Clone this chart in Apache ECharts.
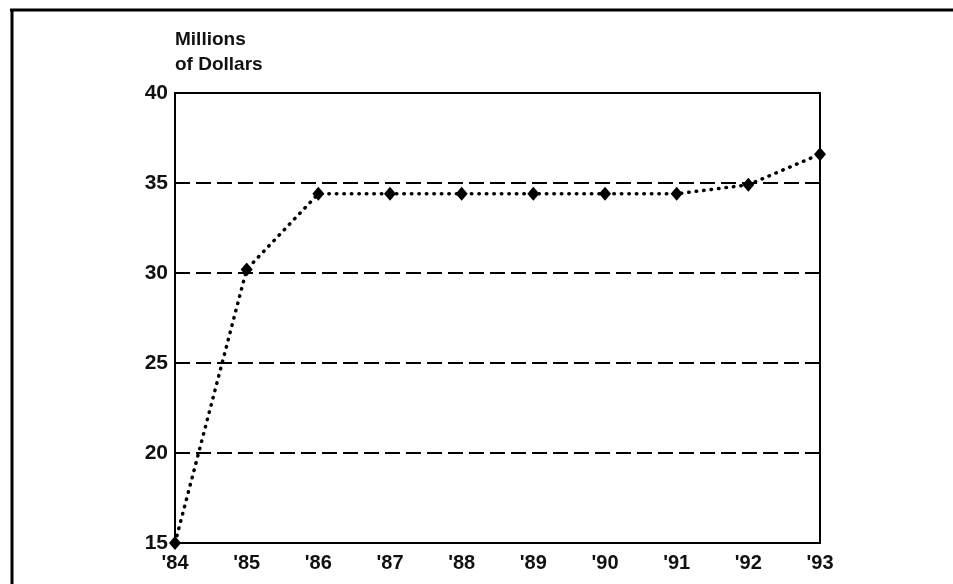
<!DOCTYPE html>
<html>
<head>
<meta charset="utf-8">
<script src="https://cdn.jsdelivr.net/npm/echarts@6/dist/echarts.min.js"></script>
<style>
	html, body { margin: 0; padding: 0; background: #fff; }
	#chart { width: 953px; height: 584px; }
</style>
</head>
<body>
<div id="chart"></div>
<script>
var years = ["'84", "'85", "'86", "'87", "'88", "'89", "'90", "'91", "'92", "'93"];
var values = [15, 30.2, 34.4, 34.4, 34.4, 34.4, 34.4, 34.4, 34.9, 36.6];
var yMin = 15, yMax = 40, yStep = 5;

var font = 'Liberation Sans, Arial, sans-serif';
var chart = echarts.init(document.getElementById('chart'));

var option = {
	backgroundColor: '#fff',
	animation: false,
	title: {
		text: 'Millions\nof Dollars',
		left: 170,
		top: 22,
		textStyle: {
			fontFamily: font,
			fontWeight: 'bold',
			fontSize: 19,
			lineHeight: 25,
			color: '#111'
		}
	},
	// picture frame (top and left edges only)
	graphic: [
		{ type: 'line', shape: { x1: 10, y1: 10, x2: 953, y2: 10 }, style: { stroke: '#000', lineWidth: 3 } },
		{ type: 'line', shape: { x1: 12, y1: 10, x2: 12, y2: 584 }, style: { stroke: '#000', lineWidth: 3 } }
	],
	grid: {
		left: 175,
		top: 93,
		right: 133,
		bottom: 41,
		show: true,
		borderColor: '#000',
		borderWidth: 2
	},
	xAxis: {
		type: 'category',
		data: years,
		boundaryGap: false,
		axisLine: { lineStyle: { color: '#000', width: 2 } },
		axisTick: { show: false },
		axisLabel: {
			fontFamily: font,
			fontWeight: 'bold',
			fontSize: 20,
			color: '#111',
			margin: 10
		},
		splitLine: { show: false }
	},
	yAxis: {
		type: 'value',
		min: yMin,
		max: yMax,
		interval: yStep,
		axisLine: { show: true, lineStyle: { color: '#000', width: 2 } },
		axisTick: { show: false },
		axisLabel: {
			fontFamily: font,
			fontWeight: 'bold',
			fontSize: 21,
			color: '#111',
			margin: 7
		},
		splitLine: {
			show: true,
			lineStyle: { color: '#000', width: 2, type: [15, 6] }
		}
	},
	series: [{
		type: 'line',
		data: values,
		clip: false,
		symbol: 'diamond',
		symbolSize: [12, 14],
		itemStyle: { color: '#000' },
		lineStyle: {
			color: '#000',
			width: 3.5,
			type: [0.5, 7],
			cap: 'round'
		}
	}]
};
chart.setOption(option);
</script>
</body>
</html>
